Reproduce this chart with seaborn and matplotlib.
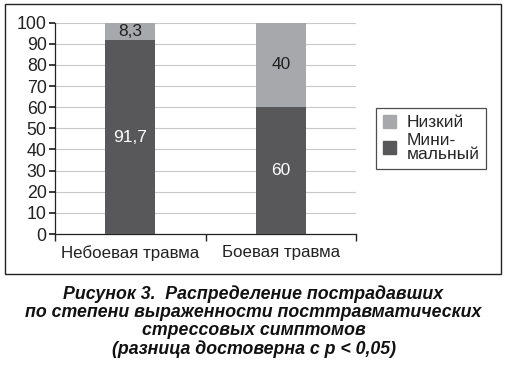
import pandas as pd
import numpy as np
import matplotlib.pyplot as plt
import seaborn as sns
from matplotlib.patches import Rectangle, Patch

# dados do gráfico
categorias = ["Небоевая травма", "Боевая травма"]
minimalnyi = [91.7, 60]
nizkii = [8.3, 40]
rotulos_min = ["91,7", "60"]
rotulos_niz = ["8,3", "40"]

sns.set_theme(style="white")
plt.rcParams['font.family'] = ['Liberation Sans', 'DejaVu Sans']

cor_escura = "#58585a"
cor_clara = "#a7a8ab"

fig = plt.figure(figsize=(5.07, 3.68), dpi=100)
ax = fig.add_axes([55 / 507, 1 - 234 / 368, 301 / 507, (234 - 22.7) / 368])

df = pd.DataFrame({"cat": categorias, "min": minimalnyi, "total": np.add(minimalnyi, nizkii)})

# barra total (clara) por baixo, depois a mínima (escura)
sns.barplot(data=df, x="cat", y="total", color=cor_clara, width=0.33, saturation=1, ax=ax, zorder=2)
sns.barplot(data=df, x="cat", y="min", color=cor_escura, width=0.33, saturation=1, ax=ax, zorder=3)
for p in ax.patches:
    p.set_clip_on(False)
    p.set_edgecolor("none")

for i in range(len(categorias)):
    ax.text(i, minimalnyi[i] / 2, rotulos_min[i], ha="center", va="center", color="white", fontsize=12.5, zorder=5)
    ax.text(i, minimalnyi[i] + nizkii[i] / 2, rotulos_niz[i], ha="center", va="center", color="#222222", fontsize=12.5, zorder=5)

ax.set_xlim(-0.5, 1.5)
ax.set_ylim(0, 100)
ax.set_yticks(range(0, 101, 10))
ax.yaxis.grid(True, color="#c8c8c8", linewidth=0.8, zorder=0)
ax.set_axisbelow(True)
ax.set_xlabel("")
ax.set_ylabel("")
ax.set_xticks([0, 1])
ax.set_xticklabels(categorias)
ax.set_xticks([-0.5, 0.5, 1.5], minor=True)
ax.tick_params(axis="x", which="major", length=0, pad=8, labelsize=12.2, colors="#222222")
ax.tick_params(axis="x", which="minor", length=5, direction="out", bottom=True, color="#222222")
ax.tick_params(axis="y", length=4, direction="out", left=True, labelsize=12.8, pad=2, colors="#222222")
for s in ["top", "right"]:
    ax.spines[s].set_visible(False)
for s in ["left", "bottom"]:
    ax.spines[s].set_color("#222222")
    ax.spines[s].set_linewidth(0.9)

# legenda
handles = [Patch(color=cor_clara, label="Низкий"), Patch(color=cor_escura, label="Мини-\nмальный")]
leg = fig.legend(handles=handles, loc="upper left", bbox_to_anchor=(376 / 507, 1 - 108 / 368),
                 frameon=True, fancybox=False, fontsize=12.5, handlelength=0.75, handleheight=0.75,
                 handletextpad=0.6, borderpad=0.4, labelspacing=0.15, borderaxespad=0)
leg.get_frame().set_edgecolor("#222222")
leg.get_frame().set_linewidth(0.9)
for t in leg.get_texts():
    t.set_linespacing(0.9)

# moldura externa
fig.patches.append(Rectangle((5 / 507, 1 - 274 / 368), 496 / 507, 270 / 368, transform=fig.transFigure,
                             fill=False, edgecolor="#222222", linewidth=1.0))

legenda = ("Рисунок 3.  Распределение пострадавших\n"
           "по степени выраженности посттравматических\n"
           "стрессовых симптомов\n"
           "(разница достоверна с р < 0,05)")
fig.text(0.5, 1 - 322 / 368, legenda, ha="center", va="center", fontsize=12.8, fontweight="bold",
         fontstyle="italic", linespacing=1.08, color="#111111")

fig.savefig("out.png", dpi=100)
